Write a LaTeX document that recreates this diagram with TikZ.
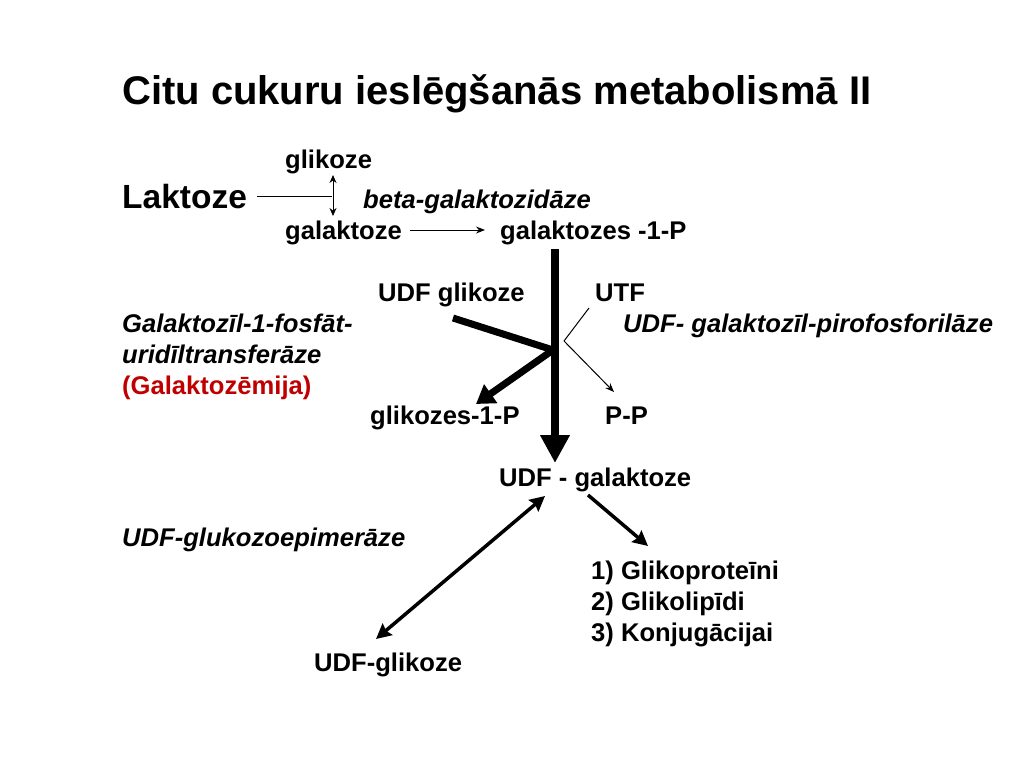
\documentclass[tikz,border=0pt]{standalone}
\usepackage{fontspec}
\setmainfont{Liberation Sans}
\usetikzlibrary{arrows.meta}
\definecolor{darkred}{RGB}{192,0,0}
\begin{document}
\begin{tikzpicture}[x=1pt,y=-1pt,
  txt/.style={anchor=base west,inner sep=0pt,font=\fontsize{25.6}{30}\selectfont\bfseries},
  itxt/.style={txt,font=\fontsize{25.6}{30}\selectfont\bfseries\itshape},
  thin/.style={line width=1pt},
  thinarrow/.style={line width=1pt,-{Stealth[length=9pt,width=7pt]}},
  dblarrow/.style={line width=1pt,{Stealth[length=8pt,width=7pt]}-{Stealth[length=8pt,width=7pt]}},
  midarrow/.style={line width=3.5pt,-{Stealth[length=15pt,width=15pt,inset=2pt]}},
  middbl/.style={line width=3.5pt,{Stealth[length=15pt,width=15pt,inset=2pt]}-{Stealth[length=15pt,width=15pt,inset=2pt]}},
  bigarrow/.style={line width=8pt,-{Triangle[length=28pt,width=28pt]}},
  heavy/.style={line width=7pt},
  heavyarrow/.style={line width=7pt,-{Triangle[length=18pt,width=22pt]}}]
\fill[white] (0,0) rectangle (1024,768);
\useasboundingbox (0,0) rectangle (1024,768);

\node[txt,font=\fontsize{40}{46}\selectfont\bfseries] (title) at (122,104) {Citu cukuru ieslēgšanās metabolismā II};

\node[txt] (glik) at (285,168) {glikoze};
\node[txt,font=\fontsize{33.5}{40}\selectfont\bfseries] (lakt) at (122,208) {Laktoze};
\node[itxt] (beta) at (363,208) {beta-galaktozidāze};
\node[txt] (galak) at (285,239) {galaktoze};
\node[txt] (g1p) at (500,239) {galaktozes -1-P};

\coordinate (laktEnd) at (332,196);
\coordinate (dTop) at (333,175);
\coordinate (dBot) at (333,216);
\draw[thin] (lakt.east |- laktEnd) ++(10,0) -- (laktEnd);
\draw[dblarrow] (dTop) -- (dBot);

\coordinate (galArrS) at (410,230);
\coordinate (galArrE) at (485,230);
\draw[thinarrow] (galArrS) -- (galArrE);

\node[txt] (udfg) at (378,301) {UDF glikoze};
\node[txt] (utf) at (595,301) {UTF};
\node[itxt] (gal1) at (122,332) {Galaktozīl-1-fosfāt-};
\node[itxt] (udfpir) at (623,332) {UDF- galaktozīl-pirofosforilāze};
\node[itxt] (urid) at (122,363) {uridīltransferāze};
\node[txt,text=darkred] (galem) at (122,394) {(Galaktozēmija)};
\node[txt] (g1p2) at (370,424) {glikozes-1-P};
\node[txt] (pp) at (605,424) {P-P};
\node[txt] (udfgal) at (499,486) {UDF - galaktoze};

% main vertical arrow
\coordinate (vTop) at (555,249);
\coordinate (vBot) at (555,463);
\draw[bigarrow] (vTop) -- (vBot);

% UDF glikoze in / glikozes-1-P out
\coordinate (inS) at (453,318);
\coordinate (junc) at (553,350);
\coordinate (outE) at (476,404);
\draw[heavy] (inS) -- (junc);
\draw[heavyarrow] (junc) -- (outE);

% UTF in / P-P out
\coordinate (utfS) at (589,308);
\coordinate (utfJ) at (564,341);
\coordinate (ppE) at (614,392);
\draw[thin] (utfS) -- (utfJ);
\draw[thinarrow] (utfJ) -- (ppE);

\node[itxt] (epim) at (122,546) {UDF-glukozoepimerāze};
\node[txt] (l1) at (591,579) {1) Glikoproteīni};
\node[txt] (l2) at (591,610) {2) Glikolipīdi};
\node[txt] (l3) at (591,641) {3) Konjugācijai};
\node[txt] (udfglik) at (314,671) {UDF-glikoze};

\coordinate (eTop) at (545,496);
\coordinate (eBot) at (376,639);
\draw[middbl] (eBot) -- (eTop);
\coordinate (pS) at (588,495);
\coordinate (pE) at (648,546);
\draw[midarrow] (pS) -- (pE);
\end{tikzpicture}
\end{document}
